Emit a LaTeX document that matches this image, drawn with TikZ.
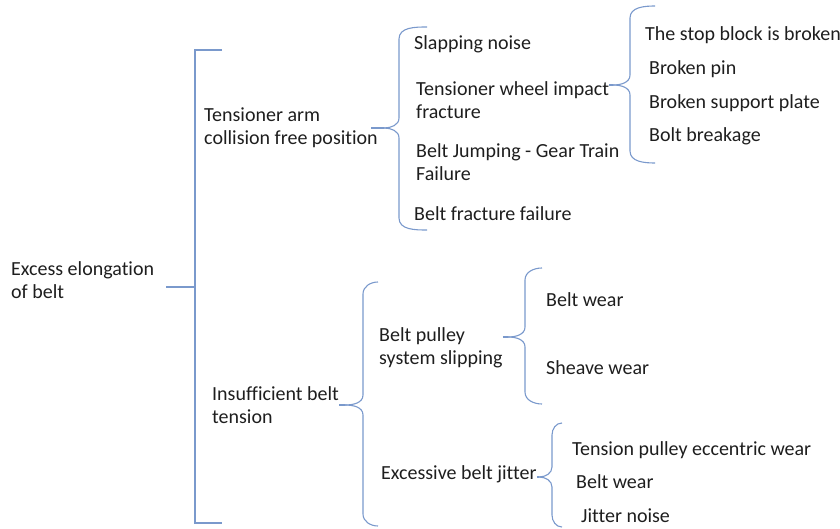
\documentclass[tikz,border=0pt]{standalone}
\usepackage{fontspec}
\setmainfont{Carlito}[Ligatures=NoCommon]
\usetikzlibrary{positioning}
\definecolor{brkcol}{RGB}{122,153,204}
\definecolor{txtcol}{RGB}{30,30,30}

% curly brace: end x, spine x, tip x, top y, tip y, bottom y
\newcommand{\curlybr}[6]{%
  \draw[brk] (#1,#4) to[out=180,in=90] (#2,#4+12) -- (#2,#5-10)
                     to[out=-90,in=0] (#3,#5);
  \draw[brk] (#1,#6) to[out=180,in=-90] (#2,#6-12) -- (#2,#5+10)
                     to[out=90,in=0] (#3,#5);}

\begin{document}
\begin{tikzpicture}[x=1pt,y=-1pt,
  brk/.style={draw=brkcol,line width=1.1pt},
  lbl/.style={anchor=west,inner sep=0pt,align=left,text=txtcol,
              font=\fontsize{20}{23}\selectfont}]
  \useasboundingbox (0,0) rectangle (840,529);

  % root
  \node[lbl] (root) at (11,280) {Excess elongation\\of belt};
  \coordinate (sq) at (195,287);
  \draw[brk] (166,287) -- (sq);
  \draw[brk] (222,50) -- (195,50) -- (195,523) -- (222,523);

  % upper branch
  \node[lbl] (arm) at (204,128) {Tensioner arm\\collision free position};
  \coordinate (t1) at (384,128);
  \draw[brk] ([xshift=-7pt]arm.east |- t1) -- (t1);
  \curlybr{427}{399}{384}{27}{128}{230}

  \node[lbl] (slap)  at (414,44)  {Slapping noise};
  \node[lbl] (wheel) at (416,100) {Tensioner wheel impact\\fracture};
  \node[lbl] (jump)  at (416,162) {Belt Jumping - Gear Train\\Failure};
  \node[lbl] (fract) at (414,214) {Belt fracture failure};

  \coordinate (t2) at (613,85);
  \draw[brk] (wheel.east |- t2) -- (t2);
  \curlybr{655}{630}{613}{6}{85}{163}

  \node[lbl] (stop)  at (645,35)  {The stop block is broken};
  \node[lbl] (pin)   at (649,69)  {Broken pin};
  \node[lbl] (plate) at (649,103) {Broken support plate};
  \node[lbl] (bolt)  at (649,136) {Bolt breakage};

  % lower branch
  \node[lbl] (tens) at (212,405) {Insufficient belt\\tension};
  \coordinate (t3) at (345,405);
  \draw[brk] (tens.east |- t3) -- (t3);
  \curlybr{378}{363}{345}{282}{405}{526}

  \node[lbl] (slip) at (379,348) {Belt pulley\\system slipping};
  \coordinate (t4) at (508,337);
  \draw[brk] (slip.east |- t4) -- (t4);
  \curlybr{542}{525}{508}{268}{337}{404}

  \node[lbl] (bwear1) at (546,300) {Belt wear};
  \node[lbl] (sheave) at (546,368) {Sheave wear};

  \node[lbl] (jitter) at (381,474) {Excessive belt jitter};
  \coordinate (t5) at (539,477);
  \draw[brk] (jitter.east |- t5) -- (t5);
  \curlybr{562}{552}{539}{423}{477}{527}

  \node[lbl] (ecc)    at (572,450) {Tension pulley eccentric wear};
  \node[lbl] (bwear2) at (576,482) {Belt wear};
  \node[lbl] (noise)  at (581,516) {Jitter noise};
\end{tikzpicture}
\end{document}
